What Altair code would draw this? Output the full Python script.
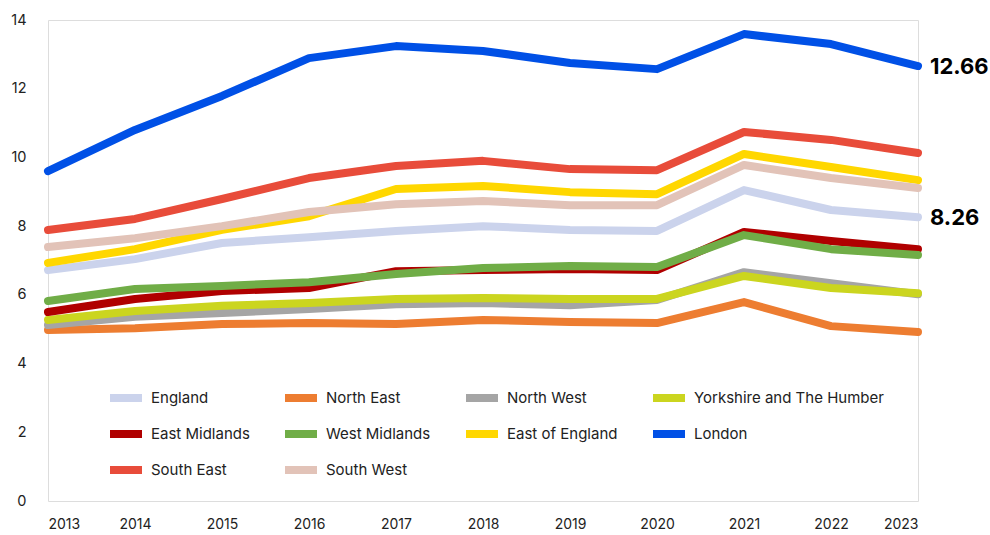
import altair as alt
import pandas as pd

years = list(range(2013, 2024))
regions = ["England", "North East", "North West", "Yorkshire and The Humber",
           "East Midlands", "West Midlands", "East of England", "London",
           "South East", "South West"]
colors = ["#CBD3EC", "#ED7D31", "#A5A5A5", "#CBD51F",
          "#B00000", "#70AD47", "#FFD700", "#0050E6",
          "#E84C3A", "#E2C3B8"]

england = [6.72, 7.04, 7.51, 7.68, 7.86, 8.00, 7.89, 7.86, 9.05, 8.47, 8.26]
north_east = [4.98, 5.03, 5.15, 5.18, 5.15, 5.27, 5.21, 5.18, 5.79, 5.09, 4.92]
north_west = [5.12, 5.36, 5.47, 5.59, 5.73, 5.76, 5.70, 5.85, 6.66, 6.34, 6.02]
yorkshire = [5.27, 5.53, 5.68, 5.76, 5.88, 5.91, 5.88, 5.88, 6.55, 6.20, 6.05]
east_midlands = [5.50, 5.88, 6.11, 6.20, 6.69, 6.72, 6.75, 6.72, 7.83, 7.57, 7.33]
west_midlands = [5.82, 6.17, 6.26, 6.37, 6.61, 6.78, 6.84, 6.81, 7.74, 7.33, 7.16]
east_of_england = [6.93, 7.33, 7.89, 8.29, 9.08, 9.17, 8.99, 8.93, 10.10, 9.72, 9.34]
london = [9.60, 10.80, 11.79, 12.89, 13.24, 13.10, 12.75, 12.57, 13.59, 13.30, 12.66]
south_east = [7.89, 8.21, 8.79, 9.40, 9.75, 9.90, 9.66, 9.63, 10.74, 10.51, 10.13]
south_west = [7.39, 7.65, 8.00, 8.41, 8.64, 8.73, 8.61, 8.61, 9.78, 9.40, 9.11]

series = [england, north_east, north_west, yorkshire, east_midlands,
          west_midlands, east_of_england, london, south_east, south_west]
labelled = ["London", "England"]

rows = []
for i, (name, vals) in enumerate(zip(regions, series)):
    for y, v in zip(years, vals):
        rows.append({"region": name, "year": y, "value": v, "order": i})
df = pd.DataFrame(rows)

FONT = "Inter"

x_enc = alt.X("year:Q", scale=alt.Scale(domain=[2013, 2023], nice=False, zero=False),
              axis=alt.Axis(values=years, format="d", title=None, grid=False,
                            domain=False, ticks=False, labelPadding=16,
                            labelFontSize=14, labelColor="#222222", labelFont=FONT))
y_enc = alt.Y("value:Q", scale=alt.Scale(domain=[0, 14], nice=False),
              axis=alt.Axis(values=[0, 2, 4, 6, 8, 10, 12, 14], title=None, grid=False,
                            domain=False, ticks=False, labelPadding=22,
                            labelFontSize=14.5, labelColor="#222222", labelFont=FONT))

lines = alt.Chart(df).mark_line(strokeWidth=8, strokeCap="round", strokeJoin="round").encode(
    x=x_enc,
    y=y_enc,
    color=alt.Color("region:N", scale=alt.Scale(domain=regions, range=colors),
                    legend=alt.Legend(title=None, orient="none", legendX=58, legendY=358,
                                      direction="horizontal",
                                      columns=4, columnPadding=19, rowPadding=-2,
                                      symbolType="stroke", symbolSize=1024,
                                      symbolStrokeWidth=8, labelOffset=5,
                                      labelFontSize=15, labelFont=FONT,
                                      labelColor="#222222", labelLimit=300)),
    detail="region:N",
    order=alt.Order("order:Q"),
)

ends = alt.Chart(df).transform_filter(
    alt.FieldOneOfPredicate(field="region", oneOf=labelled)
).transform_filter(
    alt.datum.year == 2023
).mark_text(align="left", baseline="middle", dx=12, dy=1, fontSize=22,
            fontWeight="bold", font=FONT, color="#000000").encode(
    x=alt.X("year:Q"),
    y=alt.Y("value:Q"),
    text=alt.Text("value:Q", format=".2f"),
)

chart = alt.layer(lines, ends).properties(
    width=870, height=481,
    padding={"left": 48, "top": 20, "right": 72, "bottom": 34},
    autosize=alt.AutoSizeParams(type="none"),
).configure_view(stroke=None).configure(background="white")

chart.save("out.html", embed_options={"renderer": "svg", "actions": False})
